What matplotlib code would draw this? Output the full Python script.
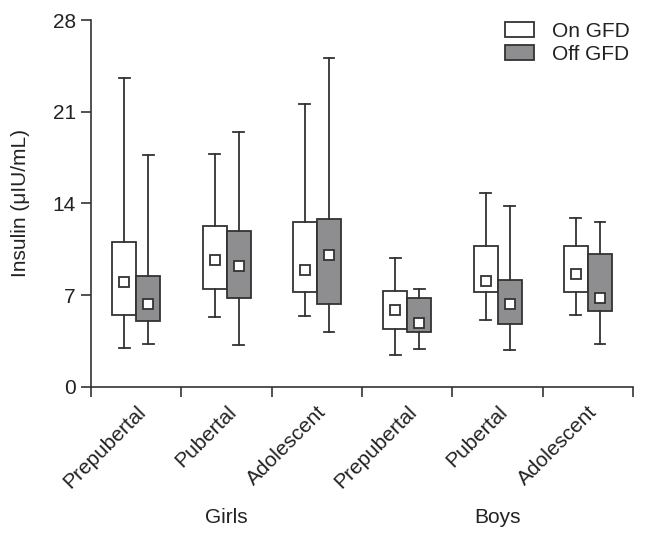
import matplotlib

matplotlib.use("Agg")
import matplotlib.pyplot as plt
from matplotlib.patches import Patch
from matplotlib.transforms import blended_transform_factory

plt.rcParams["font.family"] = ["Liberation Sans", "DejaVu Sans"]

stages = ["Prepubertal", "Pubertal", "Adolescent", "Prepubertal", "Pubertal", "Adolescent"]
groups = ["Girls", "Boys"]

# on GFD: whisker low, q1, mean, q3, whisker high
on_low = [3.0, 5.3, 5.4, 2.4, 5.1, 5.5]
on_q1 = [5.5, 7.5, 7.2, 4.4, 7.25, 7.25]
on_mean = [8.0, 9.65, 8.9, 5.9, 8.05, 8.65]
on_q3 = [11.05, 12.3, 12.55, 7.35, 10.75, 10.75]
on_high = [23.6, 17.8, 21.6, 9.8, 14.8, 12.85]

# off GFD
off_low = [3.3, 3.2, 4.15, 2.9, 2.8, 3.25]
off_q1 = [5.05, 6.8, 6.35, 4.2, 4.8, 5.8]
off_mean = [6.3, 9.2, 10.1, 4.85, 6.35, 6.75]
off_q3 = [8.45, 11.9, 12.8, 6.8, 8.15, 10.15]
off_high = [17.7, 19.45, 25.1, 7.45, 13.8, 12.55]

yticks = [0, 7, 14, 21, 28]

edge = "#333333"
gray = "#8e8e90"
text_color = "#222222"


def make_stats(low, q1, mean, q3, high):
    return [
        {"whislo": lo, "q1": a, "med": m, "mean": m, "q3": b, "whishi": hi, "fliers": []}
        for lo, a, m, b, hi in zip(low, q1, mean, q3, high)
    ]


fig = plt.figure(figsize=(6.46, 5.41), dpi=100)
ax = fig.add_axes([0.141, 0.285, 0.839, 0.678])

width = 0.266
centers = [i + 0.5 for i in range(len(stages))]

for stats, offset, color in [
    (make_stats(on_low, on_q1, on_mean, on_q3, on_high), -width / 2, "white"),
    (make_stats(off_low, off_q1, off_mean, off_q3, off_high), width / 2, gray),
]:
    ax.bxp(
        stats,
        positions=[c + offset for c in centers],
        widths=width,
        patch_artist=True,
        showmeans=True,
        showfliers=False,
        boxprops=dict(facecolor=color, edgecolor=edge, linewidth=1.3),
        whiskerprops=dict(color=edge, linewidth=1.3),
        capprops=dict(color=edge, linewidth=1.3),
        medianprops=dict(visible=False),
        meanprops=dict(marker="s", markerfacecolor="white", markeredgecolor=edge,
                       markersize=6.5, markeredgewidth=1.3),
        capwidths=0.12,
        manage_ticks=False,
    )

ax.set_xlim(0, 6)
ax.set_ylim(0, 28)
ax.set_yticks(yticks)
ax.tick_params(axis="y", labelsize=15, width=1.2, length=7, pad=4,
               color=edge, labelcolor=text_color)
ax.set_xticks(range(7))
ax.set_xticklabels([])
ax.tick_params(axis="x", which="major", width=1.2, length=7, color=edge)

ax.set_xticks(centers, stages, minor=True)
ax.tick_params(axis="x", which="minor", length=0, pad=11, labelsize=15, labelcolor=text_color)
for lbl in ax.get_xticklabels(minor=True):
    lbl.set_rotation(45)
    lbl.set_ha("right")
    lbl.set_va("top")
    lbl.set_rotation_mode("anchor")

trans = blended_transform_factory(ax.transData, ax.transAxes)
for name, xpos in zip(groups, [1.5, 4.5]):
    ax.text(xpos, -0.357, name, transform=trans, ha="center", va="center",
            fontsize=15, color=text_color)

ax.set_ylabel("Insulin (μIU/mL)", fontsize=15, color=text_color, labelpad=16)

for side in ["top", "right"]:
    ax.spines[side].set_visible(False)
for side in ["left", "bottom"]:
    ax.spines[side].set_color(edge)
    ax.spines[side].set_linewidth(1.2)

handles = [
    Patch(facecolor="white", edgecolor=edge, linewidth=1.3, label="On GFD"),
    Patch(facecolor=gray, edgecolor=edge, linewidth=1.3, label="Off GFD"),
]
leg = fig.legend(handles=handles, loc="upper left", bbox_to_anchor=(505 / 646, 1 - 22 / 541),
                 frameon=False, fontsize=15, handlelength=1.4, handleheight=0.72,
                 labelspacing=0.2, handletextpad=0.85, borderaxespad=0, borderpad=0)
for t in leg.get_texts():
    t.set_color(text_color)

fig.savefig("out.png", dpi=100)
